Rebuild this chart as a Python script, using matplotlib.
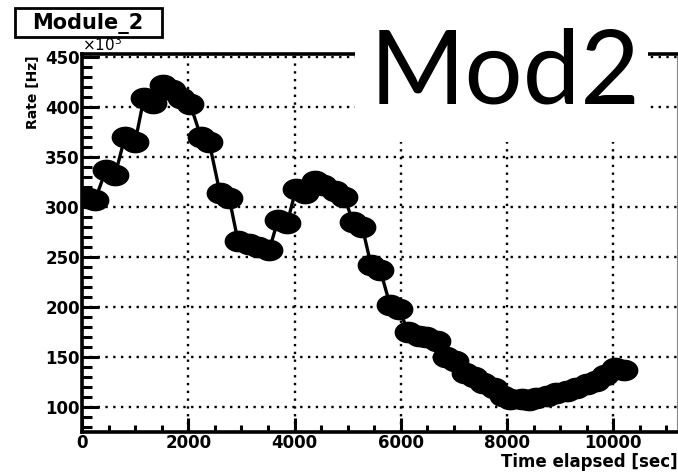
import numpy as np
import matplotlib
matplotlib.use("Agg")
import matplotlib.pyplot as plt
from matplotlib.path import Path
from matplotlib.patches import Rectangle

# time elapsed [sec] and rate [kHz]
time_s = [111, 246, 450, 623, 808, 1000, 1166, 1339, 1524, 1696,
          1863, 2035, 2240, 2393, 2597, 2770, 2936, 3147, 3313, 3523,
          3690, 3862, 4029, 4201, 4386, 4540, 4763, 4936, 5102, 5275,
          5441, 5614, 5799, 5971, 6138, 6348, 6477, 6687, 6853, 7026,
          7211, 7384, 7550, 7760, 7927, 8062, 8285, 8420, 8548, 8759,
          8925, 9135, 9302, 9512, 9678, 9851, 10036, 10209]
rate_k = [309, 307, 337, 332, 370, 365, 409, 404, 422, 417,
          409, 403, 370, 365, 314, 309, 266, 263, 260, 257,
          287, 284, 318, 314, 326, 322, 316, 310, 285, 280,
          242, 237, 202, 198, 175, 171, 170, 166, 150, 146,
          134, 130, 124, 119, 111, 108, 108, 107, 109, 111,
          114, 116, 119, 123, 126, 132, 139, 137]

x_ticks = [0, 2000, 4000, 6000, 8000, 10000]
y_ticks = [100, 150, 200, 250, 300, 350, 400, 450]

W, H = 678, 474
fig = plt.figure(figsize=(W / 100, H / 100), dpi=100)
ax = fig.add_axes([82 / W, 1 - 432 / H, 595 / W, 378 / H])

# wide round marker (the original image is stretched sideways)
th = np.linspace(0, 2 * np.pi, 64)
blob = Path(np.column_stack([1.3 * np.cos(th), np.sin(th)]))
ax.plot(time_s, rate_k, color="black", lw=2.4, marker=blob,
        markersize=19, zorder=3)

ax.set_xlim(0, 11200)
ax.set_ylim(75, 453)
ax.set_xticks(x_ticks)
ax.set_yticks(y_ticks)
ax.set_xticks(np.arange(500, 11200, 500), minor=True)
ax.set_yticks(np.arange(80, 453, 10), minor=True)

ax.grid(True, which="major", color="black", lw=1.7, linestyle=(0, (1, 2.3)))
ax.tick_params(which="both", direction="in", top=False, right=False,
               width=2.2, color="black")
ax.tick_params(which="major", axis="y", length=12)
ax.tick_params(which="minor", axis="y", length=7)
ax.tick_params(which="major", axis="x", length=10)
ax.tick_params(which="minor", axis="x", length=5)
ax.tick_params(axis="both", labelsize=12, pad=1.5)
for lab in ax.get_xticklabels() + ax.get_yticklabels():
    lab.set_fontweight("bold")

for s in ["left", "bottom", "top"]:
    ax.spines[s].set_linewidth(2.6)
ax.spines["right"].set_linewidth(0.8)
ax.spines["right"].set_color("#888888")

fig.text(1.0, 1 - 467 / H, "Time elapsed [sec]", ha="right",
         va="baseline", fontsize=12, fontweight="bold")
fig.text(33 / W, 1 - 55 / H, "Rate [Hz]", rotation=90, ha="center",
         va="top", fontsize=10, fontweight="bold")
fig.text(82 / W, 1 - 54 / H, "×10$^{3}$", ha="left", va="bottom",
         fontsize=11)

# title box
fig.patches.append(Rectangle((15 / W, 1 - 37 / H), 147 / W, 29 / H,
                             transform=fig.transFigure, fc="white",
                             ec="black", lw=2, zorder=5))
fig.text(88 / W, 1 - 23 / H, "Module_2", ha="center", va="center",
         fontsize=15, fontweight="bold", zorder=6)

# big label pasted on top
fig.patches.append(Rectangle((355 / W, 1 - 142 / H), 293 / W, 142 / H,
                             transform=fig.transFigure, fc="white",
                             ec="none", zorder=5))
fig.text(505 / W, 1 - 103 / H, "Mod2", ha="center", va="baseline",
         fontsize=74, family="Lato", zorder=6)

fig.savefig("out.png", dpi=100)
